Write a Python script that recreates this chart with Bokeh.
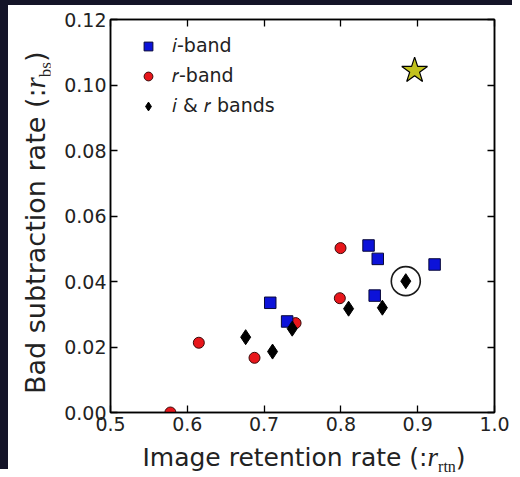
from bokeh.plotting import figure
from bokeh.models import FixedTicker, LinearAxis, Legend, LegendItem, Range1d, Div
from bokeh.layouts import row, column
from bokeh.embed import file_html
from bokeh.resources import INLINE

# ---- data ----
iband_x = [0.708, 0.730, 0.836, 0.848, 0.844, 0.922]
iband_y = [0.0335, 0.0278, 0.0510, 0.0469, 0.0357, 0.0452]
rband_x = [0.578, 0.615, 0.6875, 0.741, 0.7986, 0.7995]
rband_y = [0.0, 0.0213, 0.0167, 0.0273, 0.0349, 0.0502]
both_x = [0.676, 0.711, 0.7366, 0.810, 0.854, 0.8845]
both_y = [0.0230, 0.0186, 0.0256, 0.0317, 0.0320, 0.0401]
star_x = [0.896]
star_y = [0.1044]
circled_x = [0.8845]
circled_y = [0.0401]

x_ticks = [0.5, 0.6, 0.7, 0.8, 0.9, 1.0]
x_tick_labels = ["0.5", "0.6", "0.7", "0.8", "0.9", "1.0"]
y_ticks = [0.0, 0.02, 0.04, 0.06, 0.08, 0.10, 0.12]
y_tick_labels = ["0.00", "0.02", "0.04", "0.06", "0.08", "0.10", "0.12"]
legend_labels = ["\U0001D456-band", "\U0001D45F-band", "\U0001D456 & \U0001D45F bands"]
x_title = ("Image retention rate (:", "r", "rtn", ")")
y_title = ("Bad subtraction rate (:", "r", "bs", ")")

FONT = "DejaVu Sans"
TXT = "#222222"
DARK = "#141428"

p = figure(width=462, height=439, output_backend="svg", toolbar_location=None,
           x_range=Range1d(0.5, 1.0), y_range=Range1d(0.0, 0.12),
           min_border_left=60, min_border_right=18, min_border_top=14, min_border_bottom=32,
           x_axis_location=None, y_axis_location=None)
p.background_fill_color = "white"
p.border_fill_color = "white"
p.outline_line_color = "black"
p.outline_line_width = 1.5
p.xgrid.visible = False
p.ygrid.visible = False

def make_axis(ticks, labels, show_labels):
    ax = LinearAxis(ticker=FixedTicker(ticks=ticks))
    if show_labels:
        ax.major_label_overrides = {t: l for t, l in zip(ticks, labels)}
        ax.major_label_text_font_size = "19px"
        ax.major_label_standoff = 4
    else:
        ax.major_label_overrides = {t: "" for t in ticks}
        ax.major_label_text_font_size = "1px"
        ax.major_label_standoff = 0
    ax.major_tick_in = 7
    ax.major_tick_out = 0
    ax.minor_tick_line_color = None
    ax.major_tick_line_color = "black"
    ax.major_tick_line_width = 1.3
    ax.axis_line_color = "black"
    ax.axis_line_width = 1.5
    ax.major_label_text_font = FONT
    ax.major_label_text_color = TXT
    return ax

p.add_layout(make_axis(x_ticks, x_tick_labels, True), "below")
p.add_layout(make_axis(y_ticks, y_tick_labels, True), "left")
p.add_layout(make_axis(x_ticks, x_tick_labels, False), "above")
p.add_layout(make_axis(y_ticks, y_tick_labels, False), "right")

r_r = p.scatter(rband_x, rband_y, marker="circle", size=11, fill_color="#e8161b",
                line_color="#3a0a0a", line_width=1)
r_i = p.scatter(iband_x, iband_y, marker="square", size=11.5, fill_color="#0c12d9",
                line_color="#08083a", line_width=1)
r_b = p.scatter(both_x, both_y, marker="diamond", size=15, fill_color="black",
                line_color="black", line_width=1)
p.scatter(circled_x, circled_y, marker="circle", size=29, fill_color=None,
          line_color="#1a1a1a", line_width=1.6)
p.scatter(star_x, star_y, marker="star", size=27, fill_color="#c2c21e",
          line_color="black", line_width=1.2)

legend = Legend(items=[LegendItem(label=legend_labels[0], renderers=[r_i]),
                       LegendItem(label=legend_labels[1], renderers=[r_r]),
                       LegendItem(label=legend_labels[2], renderers=[r_b])],
                location="top_left", margin=15, padding=0, spacing=7,
                glyph_width=46, glyph_height=22, label_height=22, label_standoff=1,
                label_text_font=FONT, label_text_font_size="19px", label_text_color=TXT,
                border_line_alpha=0, background_fill_alpha=0)
p.add_layout(legend)

# ---- axis titles as HTML text (math-style italic r with roman subscript) ----
def title_html(parts, size, extra_style):
    main, var, sub, close = parts
    return (f'<div style="white-space:nowrap;font-family:\'DejaVu Sans\';font-size:{size}px;'
            f'line-height:{size}px;color:{TXT};{extra_style}">{main}'
            f'<span style="font-family:\'Liberation Serif\';font-style:italic;font-size:{size + 2}px">{var}</span>'
            f'<sub style="font-family:\'Liberation Serif\';font-size:{round(size * 0.64)}px;line-height:0">{sub}</sub>{close}</div>')

xdiv = Div(text=title_html(x_title, 25, "position:relative;left:23px;top:1px;width:462px;text-align:center;"),
           width=462, height=25, margin=0, styles={"background": "white"})
ydiv = Div(text=title_html(y_title, 27, "display:inline-block;position:relative;left:22px;top:389px;"
                                        "transform:rotate(-90deg);transform-origin:0 0;"),
           width=50, height=464, margin=0,
           styles={"background": f"linear-gradient(to right, {DARK} 8px, white 8px)"})
topbar = Div(text="", width=512, height=5, margin=0, styles={"background": DARK})

layout = column(topbar, row(ydiv, column(p, xdiv)))
open("out.html", "w").write(file_html(layout, INLINE))
